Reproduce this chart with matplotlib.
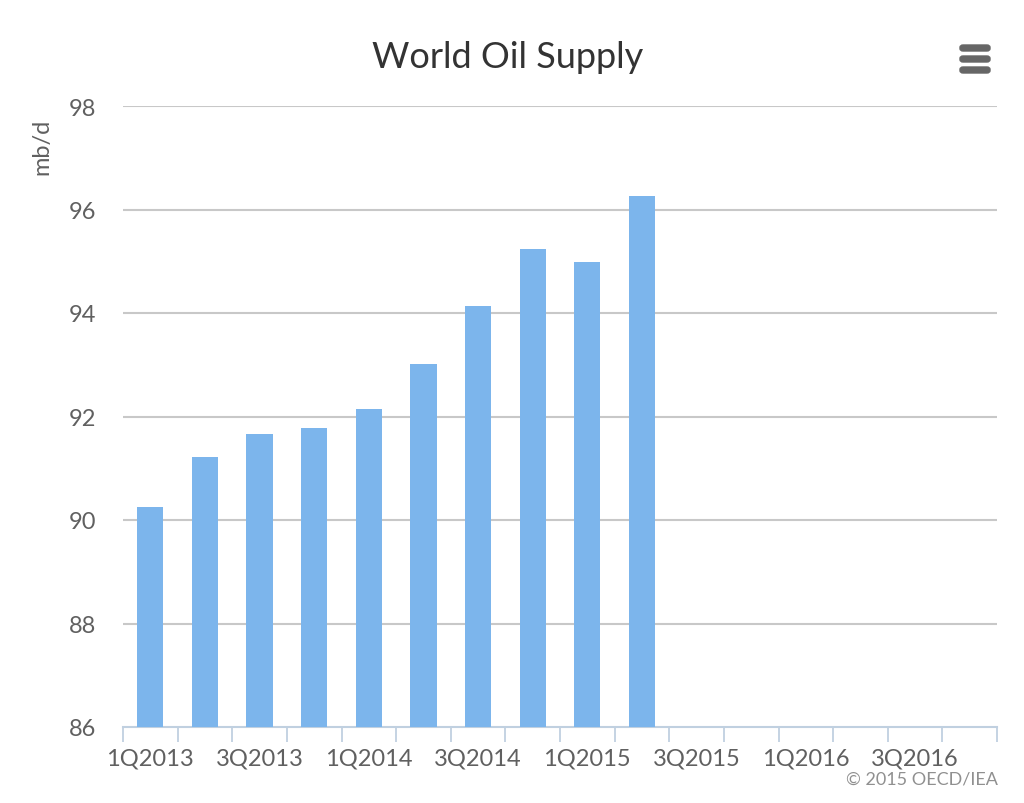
import numpy as np
import matplotlib.pyplot as plt
from matplotlib.patches import FancyBboxPatch

plt.rcParams['font.family'] = ['Lato', 'DejaVu Sans']

quarters = ['1Q2013', '2Q2013', '3Q2013', '4Q2013',
            '1Q2014', '2Q2014', '3Q2014', '4Q2014',
            '1Q2015', '2Q2015', '3Q2015', '4Q2015',
            '1Q2016', '2Q2016', '3Q2016', '4Q2016']
supply = [90.25, 91.21, 91.66, 91.78, 92.15, 93.02, 94.14, 95.24, 94.98, 96.26]
yticks = [86, 88, 90, 92, 94, 96, 98]

bar_color = '#7cb5ec'
grid_color = '#c8c8c8'
axis_color = '#c0d0e0'
label_color = '#606060'

fig = plt.figure(figsize=(10.24, 8.04), dpi=100)
ax = fig.add_axes([123 / 1024, 1 - 728 / 804, 874 / 1024, 621 / 804])

x = np.arange(len(supply))
ax.bar(x, supply, width=0.48, color=bar_color, bottom=0, zorder=3)

ax.set_xlim(-0.5, len(quarters) - 0.5)
ax.set_ylim(86, 98)
ax.set_yticks(yticks)
ax.set_yticklabels([str(v) for v in yticks], fontsize=17, color=label_color)
for v in yticks[1:]:
    ax.axhline(v, color=grid_color, lw=1.5, zorder=1)

# category labels every other quarter, ticks at category boundaries
ax.set_xticks(np.arange(0, len(quarters), 2))
ax.set_xticklabels(quarters[::2], fontsize=17, color=label_color)
ax.tick_params(axis='x', length=0, pad=15)
ax.tick_params(axis='y', length=0, pad=19)
ax.set_xticks(np.arange(-0.5, len(quarters), 1), minor=True)
ax.tick_params(axis='x', which='minor', length=11, width=1.3, color=axis_color)

for side in ['top', 'right', 'left']:
    ax.spines[side].set_visible(False)
ax.spines['bottom'].set_color(axis_color)
ax.spines['bottom'].set_linewidth(1.5)

fig.text(42 / 1024, 1 - 147 / 804, 'mb/d', rotation=90, fontsize=17,
         color=label_color, ha='center', va='center')
fig.text(508 / 1024, 1 - 57 / 804, 'World Oil Supply', fontsize=26,
         color='#333333', ha='center', va='center')
fig.text(998 / 1024, 1 - 780 / 804, '\u00a9 2015 OECD/IEA', fontsize=13,
         color='#909090', ha='right', va='center')

# menu icon
for yy in [49, 60, 71]:
    fig.patches.append(FancyBboxPatch((960 / 1024, 1 - (yy + 3) / 804), 30 / 1024, 6 / 804,
                                      boxstyle='round,pad=0,rounding_size=0.003',
                                      transform=fig.transFigure, color='#666666'))

fig.savefig('out.png', dpi=100)
